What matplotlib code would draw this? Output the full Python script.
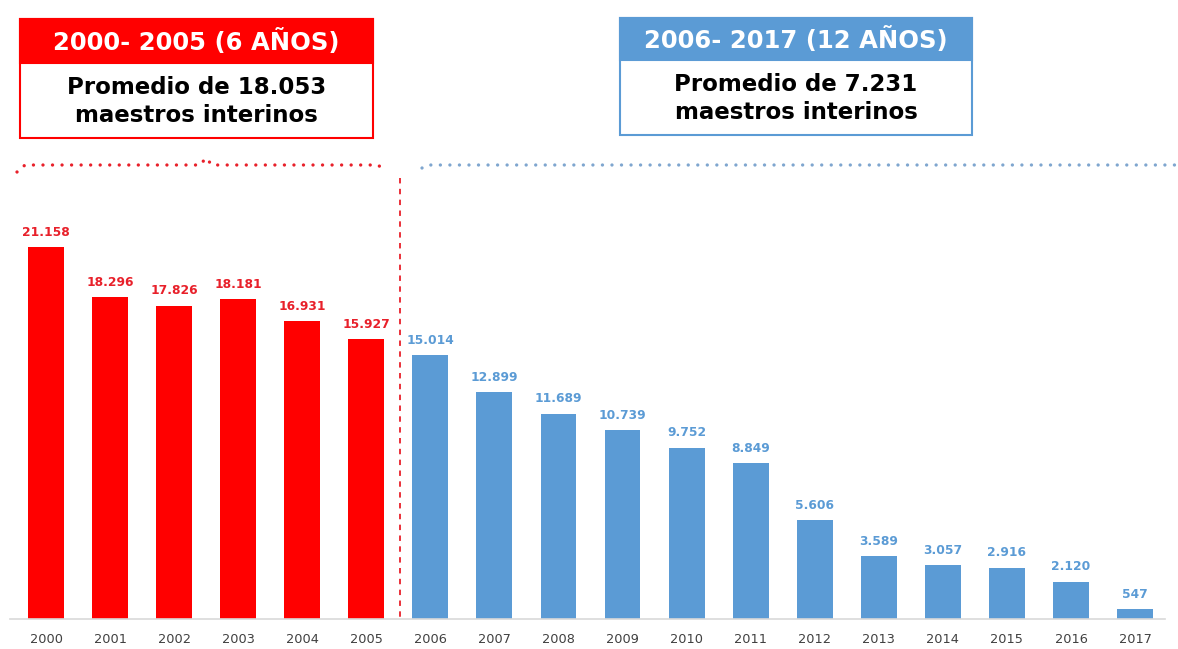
import matplotlib.pyplot as plt
from matplotlib.patches import Rectangle
from matplotlib.lines import Line2D

years = [str(y) for y in range(2000, 2018)]
values = [21158, 18296, 17826, 18181, 16931, 15927,
          15014, 12899, 11689, 10739, 9752, 8849,
          5606, 3589, 3057, 2916, 2120, 547]
n_red = 6

RED = '#FF0000'
RED_TXT = '#E8202A'
BLUE = '#5B9BD5'
BLUE_BOX = '#5B9BD5'

W, H = 1178, 649
fig = plt.figure(figsize=(W / 100, H / 100), dpi=100)

def fx(px):
    return px / W

def fy(py):
    return 1 - py / H

# axes placed in pixels: left 10, right 1165, baseline at y=619
ax = fig.add_axes([fx(10), 30 / H, (1165 - 10) / W, (619 - 0) / H])
x = list(range(len(years)))
colors = [RED] * n_red + [BLUE] * (len(years) - n_red)
bars = ax.bar(x, values, width=0.56, color=colors)
ax.set_xlim((10 - 46) / 64.06, (1165 - 46) / 64.06)
ax.set_ylim(0, 619 / 0.01758)

for i, (b, v) in enumerate(zip(bars, values)):
    lab = f'{v:,}'.replace(',', '.')
    ax.annotate(lab, (b.get_x() + b.get_width() / 2, v),
                xytext=(0, 6), textcoords='offset points',
                ha='center', va='bottom', fontsize=8.8, fontweight='bold',
                family='DejaVu Sans',
                color=RED_TXT if i < n_red else BLUE)

ax.set_xticks(x)
ax.set_xticklabels(years, fontsize=9.3, color='#404040', family='DejaVu Sans')
ax.tick_params(axis='x', length=0, pad=10)
ax.set_yticks([])
for s in ['top', 'left', 'right']:
    ax.spines[s].set_visible(False)
ax.spines['bottom'].set_color('#D9D9D9')
ax.spines['bottom'].set_linewidth(1.2)

# vertical dashed separator
fig.add_artist(Line2D([fx(400), fx(400)], [fy(178), fy(619)],
                      transform=fig.transFigure, color=RED_TXT,
                      lw=1.3, dashes=(3, 3)))

# dotted braces
red_px = [(17, 172), (25, 165), (200, 165), (206, 158), (212, 165),
          (378, 165), (383, 169)]
fig.add_artist(Line2D([fx(p[0]) for p in red_px], [fy(p[1]) for p in red_px],
                      transform=fig.transFigure, color=RED_TXT, lw=2.4,
                      linestyle=(0, (0.01, 2.85)), solid_capstyle='round',
                      dash_capstyle='round'))
blue_px = [(422, 168), (428, 165), (1178, 165)]
fig.add_artist(Line2D([fx(p[0]) for p in blue_px], [fy(p[1]) for p in blue_px],
                      transform=fig.transFigure, color='#7FA6CF', lw=2.4,
                      linestyle=(0, (0.01, 2.85)), solid_capstyle='round',
                      dash_capstyle='round'))

# header boxes
def period_box(x0, x1, y0, y_mid, y1, color, title, line1, line2):
    fig.add_artist(Rectangle((fx(x0), fy(y1)), fx(x1) - fx(x0), fy(y0) - fy(y1),
                             transform=fig.transFigure, facecolor='white',
                             edgecolor=color, lw=1.5))
    fig.add_artist(Rectangle((fx(x0), fy(y_mid)), fx(x1) - fx(x0), fy(y0) - fy(y_mid),
                             transform=fig.transFigure, facecolor=color,
                             edgecolor=color, lw=1.5))
    cx = fx((x0 + x1) / 2)
    fig.text(cx, fy((y0 + y_mid) / 2 + 1), title, ha='center', va='center',
             color='white', fontsize=17.5, fontweight='bold', family='DejaVu Sans')
    fig.text(cx, fy(y_mid + (y1 - y_mid) * 0.33), line1, ha='center', va='center',
             color='black', fontsize=16.5, fontweight='bold', family='DejaVu Sans')
    fig.text(cx, fy(y_mid + (y1 - y_mid) * 0.70), line2, ha='center', va='center',
             color='black', fontsize=16.5, fontweight='bold', family='DejaVu Sans')

period_box(20, 373, 19, 63, 138, RED, '2000- 2005 (6 AÑOS)',
           'Promedio de 18.053', 'maestros interinos')
period_box(620, 972, 18, 60, 135, BLUE_BOX, '2006- 2017 (12 AÑOS)',
           'Promedio de 7.231', 'maestros interinos')

fig.savefig('out.png', dpi=100)
